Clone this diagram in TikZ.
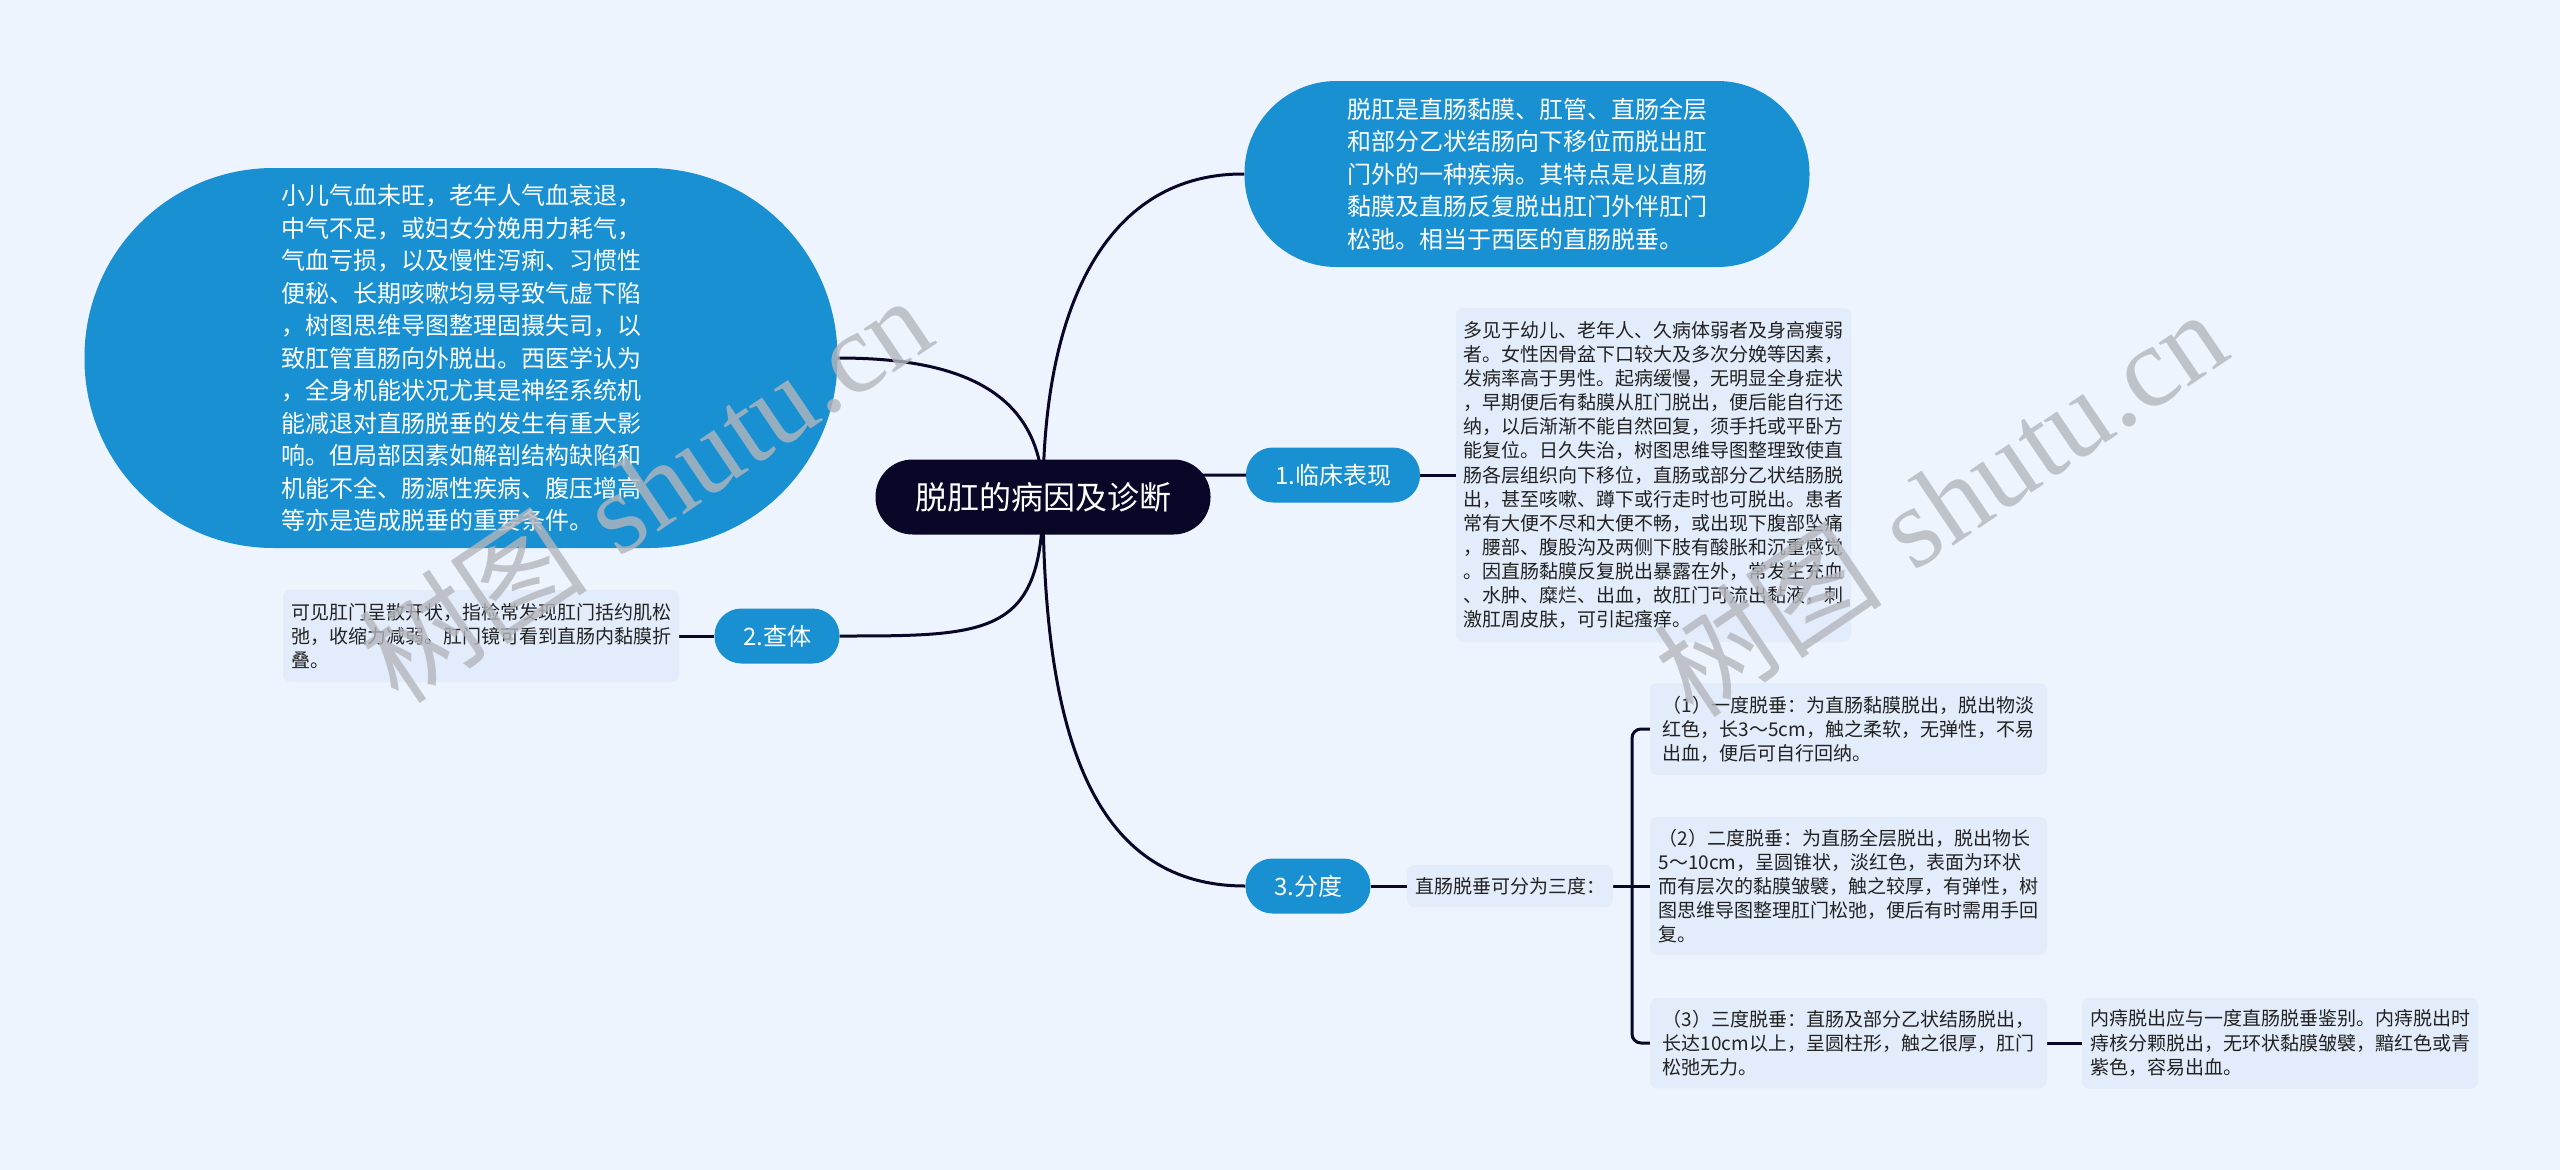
\documentclass[tikz,border=0pt]{standalone}
\usepackage{fontspec}
\newfontfamily\cjk{Noto Sans CJK SC}
\newfontfamily\wmlatin{Liberation Serif}
\usetikzlibrary{calc}
\definecolor{bgcol}{HTML}{EEF4FD}
\definecolor{boxcol}{HTML}{E2ECFB}
\definecolor{nodeblue}{HTML}{1890D2}
\definecolor{rootcol}{HTML}{0A0628}
\definecolor{linecol}{HTML}{0A0628}
\definecolor{wmcol}{HTML}{B4B6BC}
\definecolor{notetext}{HTML}{222222}
\pgfdeclarelayer{bg}
\pgfdeclarelayer{edges}
\pgfsetlayers{bg,edges,main}
\begin{document}
\begin{tikzpicture}[x=1pt,y=-1pt,
  rootnode/.style={fill=rootcol,text=white,rounded corners=37pt,minimum width=335pt,minimum height=75pt,inner sep=0pt,font=\cjk\fontsize{32pt}{38pt}\selectfont},
  bignode/.style={fill=nodeblue,text=white,align=left,inner sep=0pt,font=\cjk\fontsize{24pt}{32.5pt}\selectfont},
  topicnode/.style={fill=nodeblue,text=white,rounded corners=27pt,minimum height=55pt,inner sep=0pt,font=\cjk\fontsize{24pt}{28pt}\selectfont},
  notebox/.style={fill=boxcol,text=notetext,rounded corners=7pt,align=left,inner sep=0pt,font=\cjk\fontsize{19pt}{24.1pt}\selectfont},
  conn/.style={draw=linecol,line width=3pt},
  wm/.style={text=wmcol,opacity=0.8,rotate=34,inner sep=0pt}
]
\useasboundingbox (0,0) rectangle (2560,1170);
\begin{pgfonlayer}{bg}
\fill[bgcol] (0,0) rectangle (2560,1170);
\end{pgfonlayer}

\node[rootnode] (root) at (1043,497) {脱肛的病因及诊断};

\node[bignode, minimum width=565pt, minimum height=186pt, rounded corners=92pt] (def) at (1527,174) {脱肛是直肠黏膜、肛管、直肠全层\\和部分乙状结肠向下移位而脱出肛\\门外的一种疾病。其特点是以直肠\\黏膜及直肠反复脱出肛门外伴肛门\\松弛。相当于西医的直肠脱垂。};

\node[bignode, minimum width=753pt, minimum height=380pt, rounded corners=189pt] (cause) at (461,358) {小儿气血未旺，老年人气血衰退，\\中气不足，或妇女分娩用力耗气，\\气血亏损，以及慢性泻痢、习惯性\\便秘、长期咳嗽均易导致气虚下陷\\，树图思维导图整理固摄失司，以\\致肛管直肠向外脱出。西医学认为\\，全身机能状况尤其是神经系统机\\能减退对直肠脱垂的发生有重大影\\响。但局部因素如解剖结构缺陷和\\机能不全、肠源性疾病、腹压增高\\等亦是造成脱垂的重要条件。};

\node[topicnode, minimum width=174pt] (t1) at (1333,475) {1.临床表现};
\node[topicnode, minimum width=125pt] (t2) at (777,636) {2.查体};
\node[topicnode, minimum width=125pt] (t3) at (1308,886) {3.分度};

\node[notebox, minimum width=395pt, minimum height=334pt] (clin) at (1653.5,475) {多见于幼儿、老年人、久病体弱者及身高瘦弱\\者。女性因骨盆下口较大及多次分娩等因素，\\发病率高于男性。起病缓慢，无明显全身症状\\，早期便后有黏膜从肛门脱出，便后能自行还\\纳，以后渐渐不能自然回复，须手托或平卧方\\能复位。日久失治，树图思维导图整理致使直\\肠各层组织向下移位，直肠或部分乙状结肠脱\\出，甚至咳嗽、蹲下或行走时也可脱出。患者\\常有大便不尽和大便不畅，或出现下腹部坠痛\\，腰部、腹股沟及两侧下肢有酸胀和沉重感觉\\。因直肠黏膜反复脱出暴露在外，常发生充血\\、水肿、糜烂、出血，故肛门可流出黏液，刺\\激肛周皮肤，可引起瘙痒。};

\node[notebox, minimum width=396pt, minimum height=92pt] (exam) at (481,636) {可见肛门呈散开状，指检常发现肛门括约肌松\\弛，收缩力减弱。肛门镜可看到直肠内黏膜折\\叠。};

\node[notebox, minimum width=206pt, minimum height=42pt] (three) at (1510,886) {直肠脱垂可分为三度：};

\node[notebox, minimum width=397pt, minimum height=92pt] (d1) at (1848.5,729) {（1）一度脱垂：为直肠黏膜脱出，脱出物淡\\红色，长3～5cm，触之柔软，无弹性，不易\\出血，便后可自行回纳。};
\node[notebox, minimum width=397pt, minimum height=138pt] (d2) at (1848.5,886) {（2）二度脱垂：为直肠全层脱出，脱出物长\\5～10cm，呈圆锥状，淡红色，表面为环状\\而有层次的黏膜皱襞，触之较厚，有弹性，树\\图思维导图整理肛门松弛，便后有时需用手回\\复。};
\node[notebox, minimum width=397pt, minimum height=90pt] (d3) at (1848.5,1043) {（3）三度脱垂：直肠及部分乙状结肠脱出，\\长达10cm以上，呈圆柱形，触之很厚，肛门\\松弛无力。};

\node[notebox, minimum width=396pt, minimum height=91pt] (hem) at (2280,1043) {内痔脱出应与一度直肠脱垂鉴别。内痔脱出时\\痔核分颗脱出，无环状黏膜皱襞，黯红色或青\\紫色，容易出血。};

\coordinate (brk) at (1632,886);

\begin{pgfonlayer}{edges}
\draw[conn] (root.center) .. controls (1043,300) and (1110,173) .. (def.west);
\draw[conn] (root.center) .. controls (1043,380) and (940,358) .. (cause.east);
\draw[conn] (root.center) .. controls (1100,475) and (1150,475) .. (t1.west);
\draw[conn] (root.center) .. controls (1043,636) and (990,636) .. (t2.east);
\draw[conn] (root.center) .. controls (1043,750) and (1100,886) .. (t3.west);
\draw[conn] (t1.east) -- (clin.west);
\draw[conn] (t2.west) -- (exam.east);
\draw[conn] (t3.east) -- (three.west);
\draw[conn] (three.east) -- (d2.west);
\draw[conn, rounded corners=9pt] (d1.west) -- (d1.west -| brk) -- (d3.west -| brk) -- (d3.west);
\draw[conn] (d3.east) -- (hem.west);
\end{pgfonlayer}

\node[wm, font=\fontsize{115pt}{115pt}\selectfont] (wm1) at (645,488) {{\cjk 树图} {\wmlatin shutu.cn}};
\node[wm, font=\fontsize{115pt}{115pt}\selectfont] (wm2) at (1940,502) {{\cjk 树图} {\wmlatin shutu.cn}};
\end{tikzpicture}
\end{document}
